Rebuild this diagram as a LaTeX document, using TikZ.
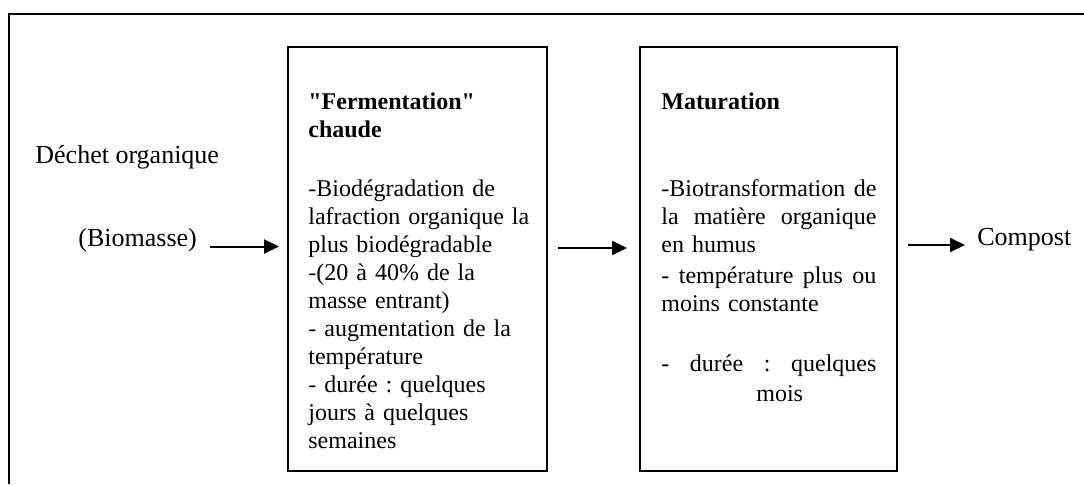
\documentclass[tikz,border=0pt]{standalone}
\usepackage{fontspec}
\setmainfont{Liberation Serif}[Ligatures=TeXOff]
\frenchspacing
\usetikzlibrary{arrows.meta,positioning,calc}
\tikzstyle{frame}=[line width=1pt]
\tikzstyle{stage}=[draw,line width=1pt,rectangle,minimum width=129.5pt,minimum height=212pt,inner sep=0pt]
\tikzstyle{stagetext}=[inner sep=0pt,text width=120pt,align=left,font=\fontsize{12}{14}\selectfont]
\tikzstyle{outlabel}=[inner sep=0pt,font=\fontsize{13}{15}\selectfont]
\tikzstyle{flow}=[line width=1pt,-{Triangle[length=7.5pt,width=7pt]}]
\newcommand{\jline}[1]{\leavevmode\hbox to 107.5pt{#1}}

\begin{document}
\begin{tikzpicture}[x=0.5pt,y=-0.5pt]
\useasboundingbox (0,0) rectangle (1084,484);
\draw[frame] (1084,13.5) -- (9,13.5) -- (9,484);

% the two stages
\node[stage] (ferm) at (417.5,259) {};
\node[stage,minimum width=128.5pt] (matu) at (768.5,259) {};

\node[stagetext,below right=21.7pt and 10.5pt of ferm.north west] (fermtext) {\strut\textbf{"Fermentation"}\\
\textbf{chaude}\\[15.5pt]
-Biodégradation de\\
lafraction organique la\\
plus biodégradable\\
-(20 à 40\% de la\\
masse entrant)\\
- augmentation de la\\
température\\
- durée : quelques\\
jours à quelques\\
semaines};

\node[stagetext,text width=107.5pt,below right=21.7pt and 11pt of matu.north west] (matutext) {\strut\textbf{Maturation}\\[29.5pt]
\jline{-Biotransformation\hfill de}\\
\jline{la\hfill matière\hfill organique}\\
en humus\\[1.5pt]
\jline{-\hfill température\hfill plus\hfill ou}\\
moins constante\\[16pt]
\jline{-\hfill durée\hfill :\hfill quelques}\\[1pt]
\hspace*{47.5pt}mois};

% input and output
\node[outlabel,anchor=base west] (dechet) at (35,163) {Déchet organique};
\node[outlabel,anchor=base west] (biomasse) at (78,246.5) {(Biomasse)};
\node[outlabel,anchor=base west] (compost) at (977,245) {Compost};

\draw[flow] ([xshift=6.5pt]biomasse.base east) -- ([xshift=-4pt]ferm.west |- biomasse.base);
\draw[flow] ([xshift=5pt,yshift=5.5pt]ferm.east) -- ([xshift=-6pt,yshift=5.5pt]matu.west);
\draw[flow] ([xshift=5pt]matu.east |- compost.base) -- ([xshift=-6pt]compost.base west);
\end{tikzpicture}
\end{document}
